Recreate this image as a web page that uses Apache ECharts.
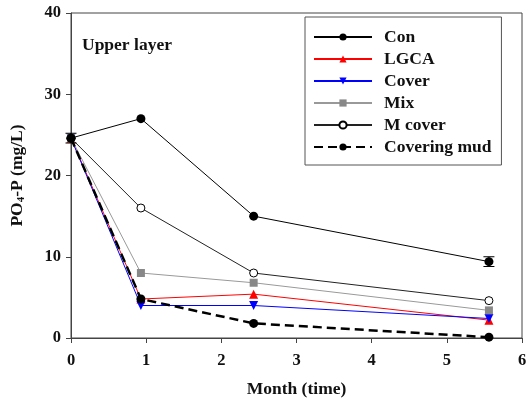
<!DOCTYPE html>
<html><head><meta charset="utf-8">
<script src="https://cdn.jsdelivr.net/npm/echarts@6/dist/echarts.min.js"></script>
<style>html,body{margin:0;padding:0;background:#fff}#c{width:530px;height:403px}</style>
</head><body><div id="c"></div>
<script>
var months = [0, 0.93, 2.43, 5.56];
var con = [24.6, 27.0, 15.0, 9.4];
var lgca = [24.6, 4.8, 5.4, 2.2];
var cover = [24.6, 4.0, 4.0, 2.4];
var mix = [24.6, 8.0, 6.8, 3.4];
var mcover = [24.6, 16.0, 8.0, 4.6];
var covmud = [24.6, 4.8, 1.8, 0.1];
var conErr = [0.6, 0, 0, 0.6];
var xTicks = [0, 1, 2, 3, 4, 5, 6];
var yTicks = [0, 10, 20, 30, 40];

function pairs(v){ return months.map(function(m,i){ return [m, v[i]]; }); }
var errData = months.map(function(m,i){ return [m, con[i]-conErr[i], con[i]+conErr[i]]; })
  .filter(function(d){ return d[2] > d[1]; });
var F = '"Liberation Serif","Times New Roman",serif';

var chart = echarts.init(document.getElementById('c'));
chart.setOption({
  animation: false,
  textStyle: {fontFamily: F},
  grid: {left: 71, right: 8, top: 13, bottom: 64, show: true, borderColor: '#444', borderWidth: 1},
  xAxis: {
    type: 'value', min: xTicks[0], max: xTicks[xTicks.length-1], interval: 1,
    name: 'Month (time)', nameLocation: 'middle', nameGap: 42,
    nameTextStyle: {fontFamily: F, fontWeight: 'bold', fontSize: 17.5, color: '#111'},
    axisLine: {lineStyle: {color: '#444'}},
    axisTick: {inside: false, length: 5, lineStyle: {color: '#444'}},
    axisLabel: {fontFamily: F, fontWeight: 'bold', fontSize: 16.5, color: '#111', margin: 14},
    splitLine: {show: false}
  },
  yAxis: {
    type: 'value', min: yTicks[0], max: yTicks[yTicks.length-1], interval: 10,
    name: 'PO{sub|4}-P (mg/L)', nameLocation: 'middle', nameGap: 44, nameRotate: 90,
    nameTextStyle: {fontFamily: F, fontWeight: 'bold', fontSize: 17.5, color: '#111',
      rich: {sub: {fontFamily: F, fontWeight: 'bold', fontSize: 11, color: '#111', verticalAlign: 'bottom', padding: [9,0,0,0]}}},
    axisLine: {lineStyle: {color: '#444'}},
    axisTick: {inside: false, length: 5, lineStyle: {color: '#444'}},
    axisLabel: {fontFamily: F, fontWeight: 'bold', fontSize: 16.5, color: '#111', margin: 10},
    splitLine: {show: false}
  },
  legend: {
    orient: 'vertical', left: 305, top: 17,
    padding: [11, 10, 9, 8],
    backgroundColor: '#fff', borderColor: '#555', borderWidth: 1,
    itemWidth: 58, itemHeight: 9, itemGap: 4,
    textStyle: {fontFamily: F, fontWeight: 'bold', fontSize: 17.5, color: '#111', padding: [0,0,0,7]},
    data: ['Con', 'LGCA', 'Cover', 'Mix', 'M cover', 'Covering mud']
  },
  graphic: [{type: 'text', left: 82, top: 36, style: {text: 'Upper layer', font: 'bold 17.5px ' + F, fill: '#111'}}],
  series: [
    {name: 'Con', type: 'line', data: pairs(con), symbol: 'circle', symbolSize: 9,
     lineStyle: {color: '#000', width: 1}, itemStyle: {color: '#000'}, z: 3},
    {name: 'LGCA', type: 'line', data: pairs(lgca), symbol: 'triangle', symbolSize: 9,
     lineStyle: {color: '#f00', width: 1}, itemStyle: {color: '#f00'}, z: 3},
    {name: 'Cover', type: 'line', data: pairs(cover), symbol: 'triangle', symbolRotate: 180, symbolSize: 9,
     lineStyle: {color: '#00f', width: 1}, itemStyle: {color: '#00f'}, z: 3},
    {name: 'Mix', type: 'line', data: pairs(mix), symbol: 'rect', symbolSize: 8,
     lineStyle: {color: '#999', width: 1}, itemStyle: {color: '#888'}, z: 3},
    {name: 'M cover', type: 'line', data: pairs(mcover), symbol: 'circle', symbolSize: 8,
     lineStyle: {color: '#222', width: 1}, itemStyle: {color: '#fff', borderColor: '#000', borderWidth: 1}, z: 3},
    {name: 'Covering mud', type: 'line', data: pairs(covmud), symbol: 'circle', symbolSize: 9,
     lineStyle: {color: '#000', width: 2.5, type: [9, 5]}, itemStyle: {color: '#000'}, z: 4},
    {name: 'err', type: 'custom', data: errData, z: 5, silent: true,
     renderItem: function(params, api){
       var x = api.value(0), lo = api.coord([x, api.value(1)]), hi = api.coord([x, api.value(2)]);
       var w = 5.5;
       return {type: 'group', children: [
         {type: 'line', shape: {x1: lo[0], y1: lo[1], x2: hi[0], y2: hi[1]}, style: {stroke: '#000', lineWidth: 1}},
         {type: 'line', shape: {x1: lo[0]-w, y1: lo[1], x2: lo[0]+w, y2: lo[1]}, style: {stroke: '#000', lineWidth: 1}},
         {type: 'line', shape: {x1: hi[0]-w, y1: hi[1], x2: hi[0]+w, y2: hi[1]}, style: {stroke: '#000', lineWidth: 1}}
       ]};
     }}
  ]
});
</script></body></html>
